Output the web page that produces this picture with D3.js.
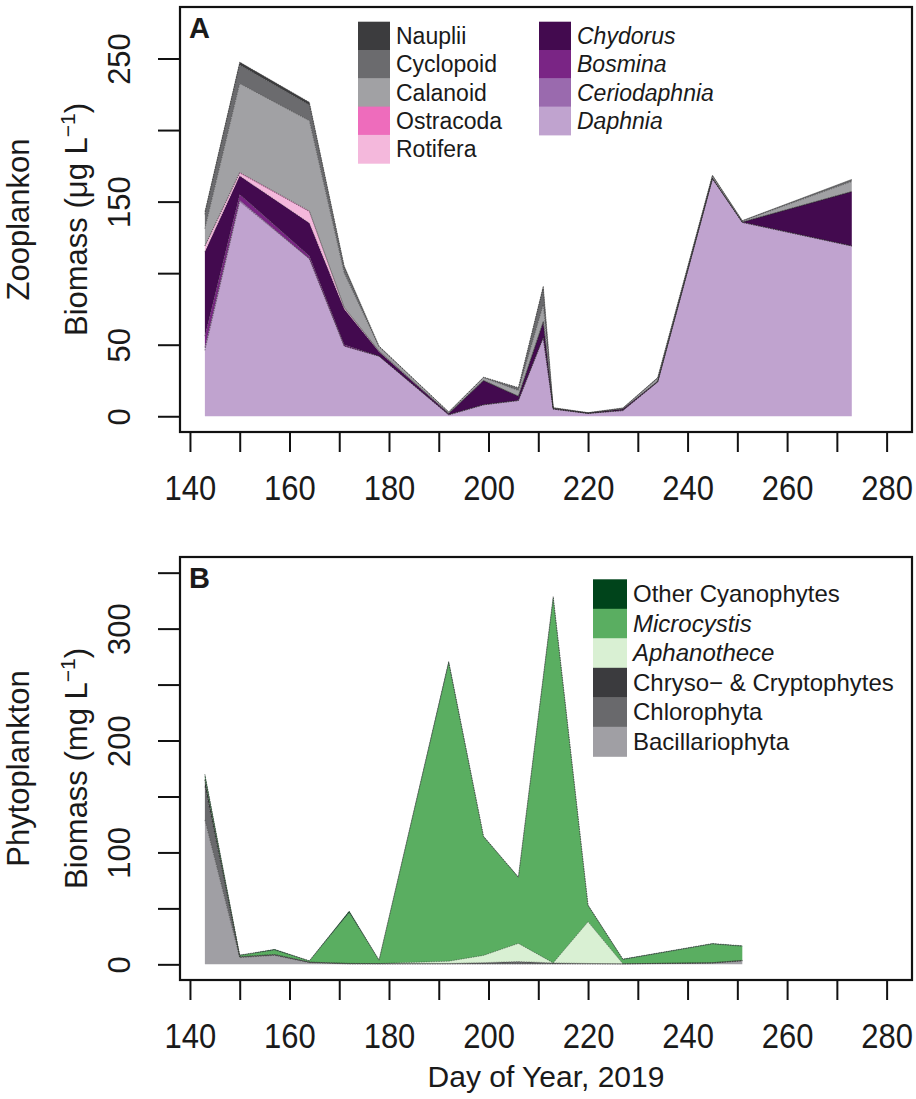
<!DOCTYPE html>
<html>
<head>
<meta charset="utf-8">
<script src="https://cdn.jsdelivr.net/npm/d3@7"></script>
<style>
  body { margin: 0; background: #fff; }
  svg text { font-family: "Liberation Sans", Arial, sans-serif; fill: #1a1a1a; }
</style>
</head>
<body>
<div id="chart"></div>
<script>
// ---- Zooplankton (panel A), ug/L ----
const zooDays = [143, 150, 164, 171, 178, 192, 199, 206, 211, 213, 220, 227, 234, 245, 251, 273]
const daphnia      = [46, 150, 110, 49, 42, 1, 8, 11, 55, 5, 2, 4, 24, 166, 135.5, 119]
const ceriodaphnia = [2, 1, 0, 0, 0, 0, 0, 0, 0, 0, 0, 0, 0, 0, 0, 0]
const bosmina      = [8, 4, 2, 1, 0, 0, 0, 0, 0, 0, 0, 0, 0, 0, 0, 0]
const chydorus     = [59, 13, 23, 25, 3, 1, 17, 3, 11, 0.5, 0.2, 1, 0.5, 0.5, 0.2, 38]
const rotifera     = [4, 2, 8, 1, 0.5, 0, 0, 0, 0, 0, 0, 0, 0, 0, 0, 0]
const ostracoda    = [0, 0.5, 0.5, 0, 0, 0, 0, 0, 0, 0, 0, 0, 0, 0, 0, 0]
const calanoid     = [12, 62, 63, 24, 3, 1, 2, 4, 12, 0.3, 0.2, 0.5, 2, 1.5, 0.8, 7]
const cyclopoid    = [10, 13, 11, 4, 0.5, 0, 0.3, 2, 11, 0.2, 0.1, 0.3, 0.5, 0.3, 0.2, 1.5]
const nauplii      = [2, 2, 2, 1, 0, 0, 0, 0, 2, 0, 0, 0, 0, 0.2, 0, 0]

// ---- Phytoplankton (panel B), mg/L ----
const phytoDays = [143, 150, 157, 164, 172, 178, 192, 199, 206, 213, 220, 227, 245, 251]
const bacillariophyta = [129, 6, 8, 1.5, 0.3, 0.3, 0.3, 0.3, 0.3, 0.3, 0.3, 0.3, 1, 3]
const chlorophyta     = [30, 0.5, 0.5, 0.3, 0.3, 0.2, 0.3, 0.8, 1.5, 0.5, 0.3, 0.1, 0.3, 0.3]
const chryso          = [6, 0.3, 0.3, 0.2, 0.2, 0.2, 0.2, 0.4, 0.7, 0.5, 0.2, 0.1, 0.2, 0.2]
const aphanothece     = [0, 0, 0, 0, 0, 0, 2, 6.5, 16.2, 0, 37.2, 0, 0, 0]
const microcystis     = [3, 1.2, 4, 1, 45.5, 3, 266.5, 106, 59, 326, 14.5, 3.8, 16.7, 12.6]
const otherCyano      = [2, 0.3, 0.6, 0.2, 1.3, 0.1, 1.5, 0.5, 0.3, 1.5, 0.5, 0.4, 0.5, 0.5]

// axis ticks
const xTicks = d3.range(140, 281, 10)
const xLabels = d3.range(140, 281, 20)
const yTicksA = [0, 50, 100, 150, 200, 250]
const yLabelsA = [0, 50, 150, 250]
const yTicksB = [0, 50, 100, 150, 200, 250, 300, 350]
const yLabelsB = [0, 100, 200, 300]

const W = 916, H = 1099
const left = 180, right = 912

const svg = d3.select("#chart").append("svg")
  .attr("width", W).attr("height", H)

const x = d3.scaleLinear().domain([138, 285.1]).range([left, right])

function panel(p) {
  const y = d3.scaleLinear().domain(p.ydom).range([p.bottom, p.top])
  const g = svg.append("g")

  // rows for d3.stack
  const rows = p.days.map((d, i) => {
    const r = { day: d }
    p.series.forEach(s => { r[s.name] = s.values[i] })
    return r
  })
  const stacked = d3.stack().keys(p.series.map(s => s.name))(rows)

  const area = d3.area()
    .x(d => x(d.data.day))
    .y0(d => y(d[0]))
    .y1(d => y(d[1]))

  const topLine = d3.line()
    .x(d => x(d.data.day))
    .y(d => y(d[1]))

  g.selectAll(".layer")
    .data(stacked)
    .enter().append("path")
    .attr("class", "layer")
    .attr("d", area)
    .attr("fill", (d, i) => p.series[i].color)

  g.selectAll(".edge")
    .data(stacked)
    .enter().append("path")
    .attr("class", "edge")
    .attr("d", topLine)
    .attr("fill", "none")
    .attr("stroke", "#222")
    .attr("stroke-width", 0.7)
    .attr("stroke-dasharray", "1.5,1")
    .attr("stroke-opacity", 0.6)

  // box
  g.append("rect")
    .attr("x", left).attr("y", p.top)
    .attr("width", right - left).attr("height", p.bottom - p.top)
    .attr("fill", "none").attr("stroke", "#111").attr("stroke-width", 2.2)

  // x axis (labels a little taller than wide, as in the source)
  const xa = g.append("g")
    .attr("transform", "translate(0," + p.bottom + ")")
    .call(d3.axisBottom(x).tickValues(xTicks).tickSize(20)
      .tickFormat(d => xLabels.includes(d) ? d : ""))
  xa.select(".domain").remove()
  xa.selectAll("line").attr("stroke", "#111").attr("stroke-width", 2)
  xa.selectAll("text")
    .attr("y", 38.7)
    .attr("transform", "scale(1,1.12)")
    .attr("font-size", 31).attr("fill", "#1a1a1a")
    .attr("font-family", "Liberation Sans, Arial, sans-serif")

  // y axis
  const ya = g.append("g")
    .attr("transform", "translate(" + left + ",0)")
    .call(d3.axisLeft(y).tickValues(p.yTicks).tickSize(22)
      .tickFormat(d => p.yLabels.includes(d) ? d : ""))
  ya.select(".domain").remove()
  ya.selectAll("line").attr("stroke", "#111").attr("stroke-width", 2)
  ya.selectAll("text")
    .attr("transform", "rotate(-90)")
    .attr("x", 0).attr("y", -50).attr("dy", 0)
    .attr("text-anchor", "middle")
    .attr("font-size", 31).attr("fill", "#1a1a1a")
    .attr("font-family", "Liberation Sans, Arial, sans-serif")

  // y titles
  const cy = (p.top + p.bottom) / 2
  g.append("text")
    .attr("transform", "translate(29," + cy + ") rotate(-90)")
    .attr("text-anchor", "middle").attr("font-size", 31)
    .text(p.title1)
  const t2 = g.append("text")
    .attr("transform", "translate(87," + cy + ") rotate(-90)")
    .attr("text-anchor", "middle").attr("font-size", 31)
  t2.append("tspan").text(p.title2)
  t2.append("tspan").attr("font-size", 21).attr("dy", -12).text("\u22121")
  t2.append("tspan").attr("dy", 12).text(")")

  // panel letter
  g.append("text")
    .attr("x", 189).attr("y", p.top + 31)
    .attr("font-size", 29).attr("font-weight", "bold").attr("fill", "#000")
    .text(p.letter)

  // legend
  p.legend.forEach(col => {
    col.items.forEach((it, i) => {
      const ry = col.y + i * col.rowH
      g.append("rect")
        .attr("x", col.x).attr("y", ry)
        .attr("width", col.sw).attr("height", col.rowH + 0.5)
        .attr("fill", it.color)
      g.append("text")
        .attr("x", col.x + col.sw + 6).attr("y", ry + col.rowH / 2 + 8.3)
        .attr("font-size", col.fs)
        .attr("font-style", it.italic ? "italic" : "normal")
        .text(it.label)
    })
  })
}

const cZoo = {
  Nauplii: "#3c3c3e", Cyclopoid: "#6b6b6e", Calanoid: "#a1a1a4",
  Ostracoda: "#ee6cbc", Rotifera: "#f4b8dc",
  Chydorus: "#430a4f", Bosmina: "#7a2585", Ceriodaphnia: "#9a6aae", Daphnia: "#c0a3cf"
}
const cPhy = {
  other: "#00441b", micro: "#5aae61", aph: "#d9f0d3",
  chryso: "#3b3b3e", chloro: "#69696c", bac: "#a09fa4"
}

panel({
  top: 7, bottom: 432, ydom: [-11, 286],
  days: zooDays,
  series: [
    { name: "Daphnia", values: daphnia, color: cZoo.Daphnia },
    { name: "Ceriodaphnia", values: ceriodaphnia, color: cZoo.Ceriodaphnia },
    { name: "Bosmina", values: bosmina, color: cZoo.Bosmina },
    { name: "Chydorus", values: chydorus, color: cZoo.Chydorus },
    { name: "Rotifera", values: rotifera, color: cZoo.Rotifera },
    { name: "Ostracoda", values: ostracoda, color: cZoo.Ostracoda },
    { name: "Calanoid", values: calanoid, color: cZoo.Calanoid },
    { name: "Cyclopoid", values: cyclopoid, color: cZoo.Cyclopoid },
    { name: "Nauplii", values: nauplii, color: cZoo.Nauplii }
  ],
  yTicks: yTicksA, yLabels: yLabelsA,
  title1: "Zooplankon", title2: "Biomass (\u03bcg L",
  letter: "A",
  legend: [
    { x: 358, y: 21.7, sw: 32, rowH: 28.3, fs: 23, items: [
      { label: "Nauplii", color: cZoo.Nauplii },
      { label: "Cyclopoid", color: cZoo.Cyclopoid },
      { label: "Calanoid", color: cZoo.Calanoid },
      { label: "Ostracoda", color: cZoo.Ostracoda },
      { label: "Rotifera", color: cZoo.Rotifera }
    ]},
    { x: 539, y: 21.7, sw: 32, rowH: 28.3, fs: 23, items: [
      { label: "Chydorus", color: cZoo.Chydorus, italic: true },
      { label: "Bosmina", color: cZoo.Bosmina, italic: true },
      { label: "Ceriodaphnia", color: cZoo.Ceriodaphnia, italic: true },
      { label: "Daphnia", color: cZoo.Daphnia, italic: true }
    ]}
  ]
})

panel({
  top: 557, bottom: 980, ydom: [-14, 364],
  days: phytoDays,
  series: [
    { name: "Bacillariophyta", values: bacillariophyta, color: cPhy.bac },
    { name: "Chlorophyta", values: chlorophyta, color: cPhy.chloro },
    { name: "Chryso", values: chryso, color: cPhy.chryso },
    { name: "Aphanothece", values: aphanothece, color: cPhy.aph },
    { name: "Microcystis", values: microcystis, color: cPhy.micro },
    { name: "Other", values: otherCyano, color: cPhy.other }
  ],
  yTicks: yTicksB, yLabels: yLabelsB,
  title1: "Phytoplankton", title2: "Biomass (mg L",
  letter: "B",
  legend: [
    { x: 593, y: 579.3, sw: 34, rowH: 29.5, fs: 24, items: [
      { label: "Other Cyanophytes", color: cPhy.other },
      { label: "Microcystis", color: cPhy.micro, italic: true },
      { label: "Aphanothece", color: cPhy.aph, italic: true },
      { label: "Chryso\u2212 & Cryptophytes", color: cPhy.chryso },
      { label: "Chlorophyta", color: cPhy.chloro },
      { label: "Bacillariophyta", color: cPhy.bac }
    ]}
  ]
})

// x axis title
svg.append("text")
  .attr("x", 546).attr("y", 1087)
  .attr("text-anchor", "middle").attr("font-size", 30)
  .text("Day of Year, 2019")
</script>
</body>
</html>
